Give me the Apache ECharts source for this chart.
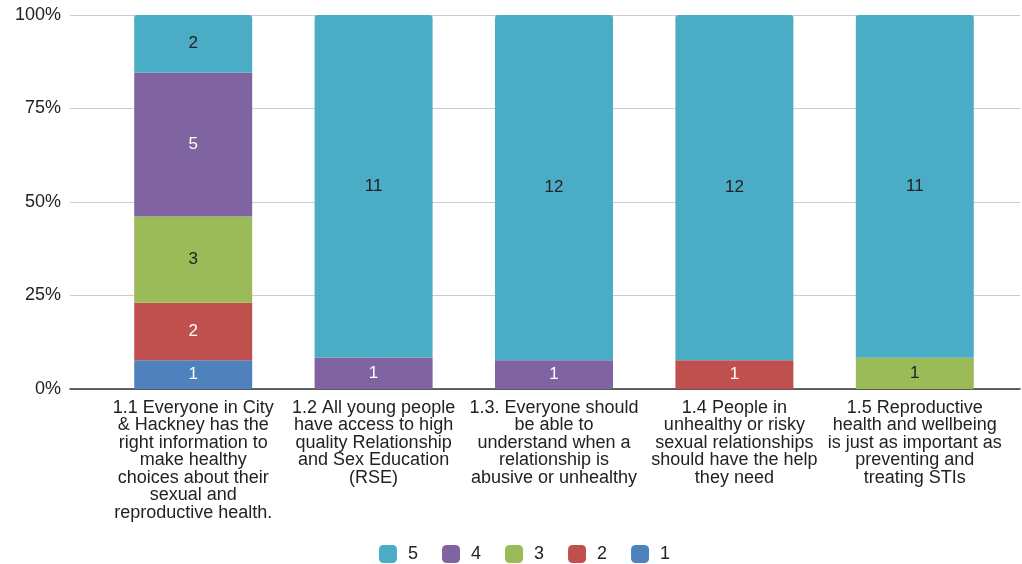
<!DOCTYPE html>
<html><head><meta charset="utf-8">
<script src="https://cdn.jsdelivr.net/npm/echarts@6/dist/echarts.min.js"></script>
<style>html,body{margin:0;padding:0;background:#fff}#c{width:1022px;height:564px}</style>
</head><body><div id="c"></div>
<script>
const categories = [
  "1.1 Everyone in City\n& Hackney has the\nright information to\nmake healthy\nchoices about their\nsexual and\nreproductive health.",
  "1.2 All young people\nhave access to high\nquality Relationship\nand Sex Education\n(RSE)",
  "1.3. Everyone should\nbe able to\nunderstand when a\nrelationship is\nabusive or unhealthy",
  "1.4 People in\nunhealthy or risky\nsexual relationships\nshould have the help\nthey need",
  "1.5 Reproductive\nhealth and wellbeing\nis just as important as\npreventing and\ntreating STIs"
];
const seriesNames = ["1","2","3","4","5"];
const s1 = [1,0,0,0,0];
const s2 = [2,0,0,1,0];
const s3 = [3,0,0,0,1];
const s4 = [5,1,1,0,0];
const s5 = [2,11,12,12,11];
const yTicks = ["0%","25%","50%","75%","100%"];

const raw = [s1,s2,s3,s4,s5];
const colors = ["#4f81bd","#c0504d","#9bbb59","#8064a2","#4bacc6"];
const labelColors = ["#fff","#fff","#222","#fff","#222"];
const totals = categories.map((_,i)=>raw.reduce((a,s)=>a+s[i],0));
const FONT = 'Liberation Sans';

const series = raw.map((vals,k)=>({
  name: seriesNames[k],
  type:'bar',
  stack:'all',
  xAxisIndex:1, yAxisIndex:1,
  barWidth:'65.4%',
  itemStyle:{color:colors[k], borderRadius: k===4?[3,3,0,0]:0},
  label:{show:true, position:'inside', color:labelColors[k], fontSize:17, fontFamily:FONT,
    formatter:p=> vals[p.dataIndex] ? String(vals[p.dataIndex]) : ''},
  data: vals.map((v,i)=>v/totals[i]*100)
}));

const chart = echarts.init(document.getElementById('c'));
chart.setOption({
  animation:false,
  textStyle:{fontFamily:FONT},
  grid:[
    {left:70,right:2,top:15,bottom:175,containLabel:false},
    {left:103,right:17,top:15,bottom:175,containLabel:false}
  ],
  legend:{
    top:545, left:379, padding:0, itemWidth:18, itemHeight:18, itemGap:24,
    icon:'roundRect',
    data:["5","4","3","2","1"],
    textStyle:{fontSize:18,color:'#222',fontFamily:FONT,padding:[0,0,0,6]}
  },
  xAxis:[
    {type:'value', gridIndex:0, min:0, max:1, show:true,
      axisLine:{show:true,onZero:false,lineStyle:{color:'#333',width:1.5}}, axisTick:{show:false},
      axisLabel:{show:false}, splitLine:{show:false}},
    {type:'category', gridIndex:1, data:categories,
      axisLine:{show:false}, axisTick:{show:false},
      axisLabel:{interval:0, color:'#222', fontSize:18, lineHeight:17.5, margin:10, fontFamily:FONT}}
  ],
  yAxis:[
    {type:'value', gridIndex:0, min:0, max:100, interval:25,
      axisLabel:{color:'#222', fontSize:18, margin:9, fontFamily:FONT,
        formatter:v=>yTicks[v/25]},
      splitLine:{lineStyle:{color:'#ccc'}}, axisLine:{show:false}, axisTick:{show:false}},
    {type:'value', gridIndex:1, min:0, max:100, show:false, splitLine:{show:false}}
  ],
  series: series
});
</script></body></html>
